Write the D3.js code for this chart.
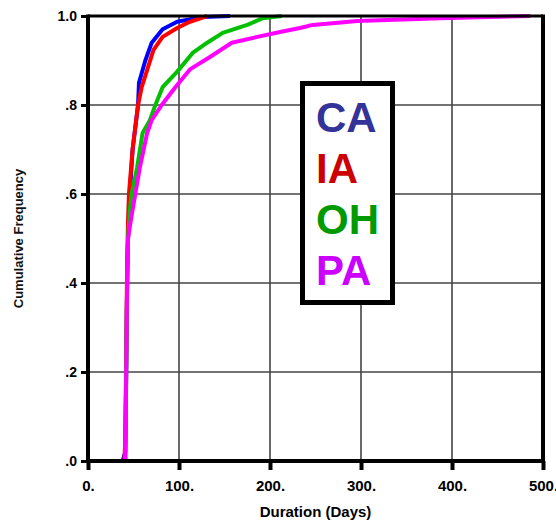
<!DOCTYPE html>
<html>
<head>
<meta charset="utf-8">
<script src="https://cdn.jsdelivr.net/npm/d3@7"></script>
<style>
  html, body { margin: 0; padding: 0; background: #fff; }
  svg { display: block; font-family: "Liberation Sans", Arial, sans-serif; }
</style>
</head>
<body>
<svg id="chart" width="556" height="524"></svg>
<script>
// ---- data (days, cumulative frequency) ----
const caDays  = [38, 41, 42, 43, 44, 46, 49, 55, 56, 63, 70, 82, 98, 126, 156];
const caFreq  = [0, 0.02, 0.2, 0.4, 0.5, 0.6, 0.7, 0.8, 0.85, 0.9, 0.94, 0.97, 0.987, 0.998, 1.0];
const iaDays  = [40, 41, 42, 43, 44, 45, 49, 55, 59, 66, 72, 82, 98, 112, 131];
const iaFreq  = [0, 0.05, 0.25, 0.45, 0.54, 0.6, 0.7, 0.8, 0.84, 0.885, 0.924, 0.953, 0.973, 0.987, 1.0];
const ohDays  = [41, 42, 43, 44, 46, 48, 54, 60, 68, 74, 82, 98, 115, 131, 148, 175, 192, 213];
const ohFreq  = [0, 0.2, 0.4, 0.5, 0.564, 0.6, 0.66, 0.737, 0.766, 0.8, 0.84, 0.875, 0.917, 0.94, 0.962, 0.98, 0.995, 1.0];
const paDays  = [41, 42, 43, 44, 47, 52, 57, 65, 70, 81, 96, 112, 134, 158, 186, 211, 233, 247, 296, 387, 486];
const paFreq  = [0, 0.2, 0.4, 0.5, 0.54, 0.6, 0.66, 0.737, 0.766, 0.8, 0.84, 0.88, 0.908, 0.94, 0.953, 0.964, 0.973, 0.98, 0.989, 0.995, 1.0];

const seriesNames = ["CA", "IA", "OH", "PA"];
const lineColors  = ["#0000ff", "#ff0000", "#00c000", "#ff00ff"];
const labelColors = ["#333399", "#cc0000", "#009900", "#cc00ff"];

const xTicks = [0, 100, 200, 300, 400, 500];
const xTickLabels = ["0.", "100.", "200.", "300.", "400.", "500."];
const yTicks = [0, 0.2, 0.4, 0.6, 0.8, 1.0];
const yTickLabels = [".0", ".2", ".4", ".6", ".8", "1.0"];

const xTitle = "Duration (Days)";
const yTitle = "Cumulative Frequency";

// ---- layout ----
const svg = d3.select("#chart");
const L = 88, R = 543, T = 16, B = 461;
const x = d3.scaleLinear().domain([0, 500]).range([L, R]);
const y = d3.scaleLinear().domain([0, 1]).range([B, T]);

const series = [
  d3.zip(caDays, caFreq),
  d3.zip(iaDays, iaFreq),
  d3.zip(ohDays, ohFreq),
  d3.zip(paDays, paFreq)
];

// grid
svg.append("g").selectAll("line").data(xTicks.slice(1, -1)).join("line")
  .attr("x1", d => x(d)).attr("x2", d => x(d)).attr("y1", T).attr("y2", B)
  .attr("stroke", "#444").attr("stroke-width", 1.6);
svg.append("g").selectAll("line").data(yTicks.slice(1, -1)).join("line")
  .attr("y1", d => y(d)).attr("y2", d => y(d)).attr("x1", L).attr("x2", R)
  .attr("stroke", "#444").attr("stroke-width", 1.6);

// axes
const xAxis = d3.axisBottom(x).tickValues(xTicks)
  .tickFormat((d, i) => xTickLabels[i]).tickSize(9).tickPadding(10);
const gx = svg.append("g").attr("transform", `translate(0,${B})`).call(xAxis);
gx.select(".domain").remove();
gx.selectAll(".tick line").attr("stroke", "#000").attr("stroke-width", 4);
gx.selectAll(".tick text").attr("font-size", 15).attr("font-weight", "bold")
  .attr("font-family", "Liberation Sans, Arial, sans-serif").attr("fill", "#000");

const yAxis = d3.axisLeft(y).tickValues(yTicks)
  .tickFormat((d, i) => yTickLabels[i]).tickSize(7).tickPadding(4);
const gy = svg.append("g").attr("transform", `translate(${L},0)`).call(yAxis);
gy.select(".domain").remove();
gy.selectAll(".tick line").attr("stroke", "#000").attr("stroke-width", 3);
gy.selectAll(".tick text").attr("font-size", 14).attr("font-weight", "bold")
  .attr("font-family", "Liberation Sans, Arial, sans-serif").attr("fill", "#000");

// lines
const line = d3.line().x(d => x(d[0])).y(d => y(d[1]));
svg.append("g").selectAll("path").data(series).join("path")
  .attr("d", line)
  .attr("fill", "none")
  .attr("stroke", (d, i) => lineColors[i])
  .attr("stroke-width", 4)
  .attr("stroke-linejoin", "round");

// frame
svg.append("line").attr("x1", L).attr("x2", R).attr("y1", T).attr("y2", T)
  .attr("stroke", "#000").attr("stroke-width", 3);
svg.append("line").attr("x1", R).attr("x2", R).attr("y1", T - 1.5).attr("y2", B)
  .attr("stroke", "#000").attr("stroke-width", 4);
svg.append("line").attr("x1", L).attr("x2", L).attr("y1", T - 1.5).attr("y2", B + 2)
  .attr("stroke", "#000").attr("stroke-width", 4);
svg.append("line").attr("x1", L - 2).attr("x2", R + 2).attr("y1", B).attr("y2", B)
  .attr("stroke", "#000").attr("stroke-width", 4);

// axis titles
svg.append("text").attr("x", (L + R) / 2).attr("y", 517)
  .attr("text-anchor", "middle").attr("font-size", 15).attr("font-weight", "bold")
  .text(xTitle);
svg.append("text").attr("transform", `translate(23,${(T + B) / 2}) rotate(-90)`)
  .attr("text-anchor", "middle").attr("font-size", 13).attr("font-weight", "bold")
  .attr("fill", "#111")
  .text(yTitle);

// legend box
const lg = svg.append("g");
lg.append("rect").attr("x", 302.5).attr("y", 83.5).attr("width", 90).attr("height", 219)
  .attr("fill", "#fff").attr("stroke", "#000").attr("stroke-width", 5);
lg.selectAll("text").data(seriesNames).join("text")
  .attr("x", 316).attr("y", (d, i) => 132 + i * 51)
  .attr("font-size", 42).attr("font-weight", "bold")
  .attr("fill", (d, i) => labelColors[i])
  .text(d => d);
</script>
</body>
</html>
